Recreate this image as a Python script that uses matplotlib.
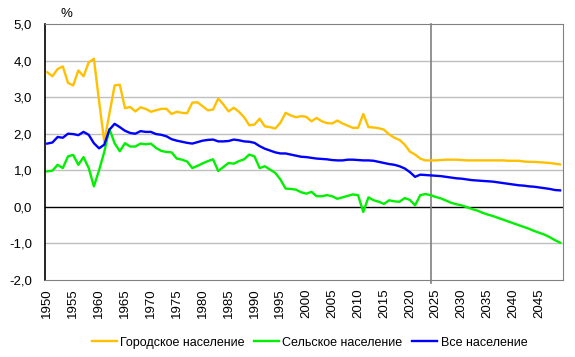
import numpy as np
import matplotlib
matplotlib.use("Agg")
import matplotlib.pyplot as plt

plt.rcParams['font.family'] = ['Liberation Sans', 'DejaVu Sans']

# --- data: annual growth rate, %, 1950-2049 ---
years = list(range(1950, 2050))

urban = [3.68, 3.57, 3.77, 3.84, 3.39, 3.32, 3.73, 3.57, 3.95, 4.05,
         2.89, 1.79, 2.55, 3.32, 3.34, 2.70, 2.73, 2.61, 2.72, 2.68,
         2.60, 2.64, 2.68, 2.68, 2.54, 2.60, 2.57, 2.56, 2.85, 2.86,
         2.75, 2.64, 2.66, 2.96, 2.80, 2.61, 2.71, 2.60, 2.45, 2.23,
         2.25, 2.41, 2.20, 2.18, 2.14, 2.30, 2.57, 2.50, 2.45, 2.48,
         2.46, 2.34, 2.43, 2.34, 2.29, 2.28, 2.36, 2.28, 2.22, 2.16,
         2.16, 2.54, 2.18, 2.17, 2.15, 2.11, 1.98, 1.89, 1.83, 1.70,
         1.51, 1.43, 1.32, 1.27, 1.27, 1.27, 1.28, 1.29, 1.29, 1.29,
         1.28, 1.27, 1.27, 1.27, 1.27, 1.27, 1.27, 1.27, 1.27, 1.26,
         1.26, 1.26, 1.24, 1.23, 1.23, 1.22, 1.21, 1.20, 1.18, 1.16]

rural = [0.97, 0.99, 1.15, 1.06, 1.38, 1.42, 1.15, 1.36, 1.06, 0.56,
         1.00, 1.50, 2.13, 1.74, 1.52, 1.74, 1.65, 1.65, 1.73, 1.71,
         1.73, 1.61, 1.53, 1.50, 1.49, 1.32, 1.29, 1.24, 1.06, 1.12,
         1.19, 1.25, 1.30, 0.98, 1.09, 1.20, 1.18, 1.25, 1.30, 1.43,
         1.38, 1.06, 1.11, 1.02, 0.93, 0.75, 0.50, 0.49, 0.47, 0.40,
         0.36, 0.41, 0.29, 0.29, 0.32, 0.29, 0.22, 0.26, 0.30, 0.34,
         0.32, -0.14, 0.26, 0.18, 0.14, 0.08, 0.18, 0.15, 0.14, 0.24,
         0.19, 0.04, 0.32, 0.35, 0.32, 0.27, 0.23, 0.17, 0.11, 0.07,
         0.04, -0.01, -0.06, -0.10, -0.16, -0.21, -0.25, -0.30, -0.35, -0.40,
         -0.45, -0.50, -0.55, -0.60, -0.66, -0.71, -0.76, -0.83, -0.91, -0.98]

total = [1.73, 1.76, 1.91, 1.89, 2.00, 1.99, 1.96, 2.05, 1.97, 1.74,
         1.60, 1.70, 2.11, 2.27, 2.18, 2.08, 2.02, 2.00, 2.07, 2.05,
         2.05, 1.99, 1.97, 1.93, 1.85, 1.81, 1.78, 1.75, 1.73, 1.77,
         1.81, 1.83, 1.84, 1.79, 1.79, 1.80, 1.84, 1.82, 1.79, 1.78,
         1.75, 1.66, 1.59, 1.54, 1.49, 1.46, 1.46, 1.43, 1.40, 1.37,
         1.36, 1.34, 1.32, 1.31, 1.30, 1.28, 1.27, 1.27, 1.29, 1.29,
         1.28, 1.27, 1.27, 1.26, 1.23, 1.20, 1.17, 1.15, 1.11, 1.05,
         0.95, 0.82, 0.88, 0.87, 0.86, 0.85, 0.84, 0.82, 0.80, 0.78,
         0.77, 0.75, 0.73, 0.72, 0.71, 0.70, 0.69, 0.67, 0.65, 0.63,
         0.61, 0.59, 0.58, 0.56, 0.55, 0.53, 0.51, 0.49, 0.46, 0.45]

series_names = ["Городское население", "Сельское население", "Все население"]
forecast_start = 2024
y_ticks = [-2, -1, 0, 1, 2, 3, 4, 5]
x_ticks = list(range(1950, 2050, 5))

fig = plt.figure(figsize=(5.75, 3.57), dpi=100)
ax = fig.add_axes([0.0777, 0.2157, 0.9009, 0.7171])

# gridlines
for v in y_ticks:
    if v not in (0, 5, -2):
        ax.axhline(v, color="#bfbfbf", lw=1.0, zorder=1)
ax.axhline(0, color="black", lw=1.0, zorder=2)

ax.plot(years, urban, color="#ffc000", lw=1.7, label=series_names[0], zorder=3)
ax.plot(years, rural, color="#00f000", lw=1.7, label=series_names[1], zorder=3)
ax.plot(years, total, color="#0000ff", lw=1.7, label=series_names[2], zorder=4)

ax.axvline(forecast_start, ymin=-0.01, ymax=1, color="#808080", lw=1.2,
           zorder=2, clip_on=False)

ax.set_xlim(1949.5, 2049.5)
ax.set_ylim(-2, 5)

ax.set_yticks(y_ticks)
ax.set_yticklabels([f"{v:.1f}".replace(".", ",") for v in y_ticks])
ax.set_xticks(x_ticks)
ax.set_xticklabels([str(x) for x in x_ticks], rotation=90)
ax.tick_params(axis="y", length=0, pad=9, labelsize=9.5)
ax.tick_params(axis="x", length=0, pad=6, labelsize=9.5)

for side in ["top", "right", "bottom"]:
    ax.spines[side].set_color("#808080")
ax.spines["left"].set_color("black")
ax.spines["left"].set_linewidth(1.2)

fig.text(0.116, 0.96, "%", ha="center", va="center", fontsize=9.5)

fig.legend(loc="center", bbox_to_anchor=(0.538, 0.04), ncol=3, frameon=False,
           fontsize=9, handlelength=2.0, handletextpad=0.25,
           columnspacing=0.8)

fig.savefig("out.png", dpi=100)
